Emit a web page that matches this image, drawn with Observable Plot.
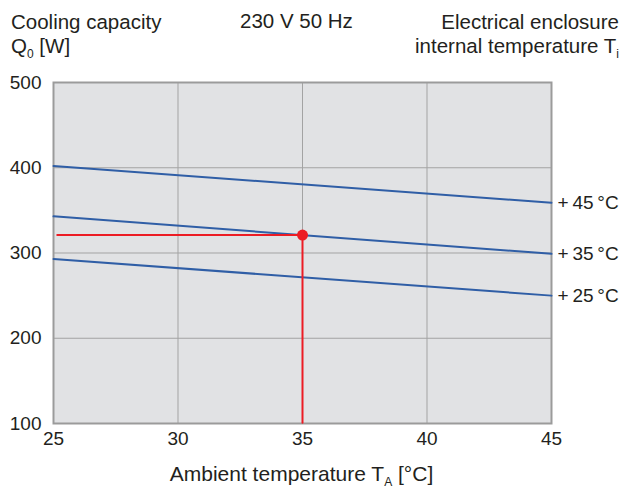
<!DOCTYPE html>
<html><head><meta charset="utf-8">
<script src="https://cdn.jsdelivr.net/npm/d3@7"></script>
<script src="https://cdn.jsdelivr.net/npm/@observablehq/plot@0.6"></script>
<style>
body{margin:0;background:#fff;font-family:"Liberation Sans",Arial,sans-serif;}
#wrap{position:relative;width:627px;height:489px;}
.t{position:absolute;font-size:20.5px;color:#231f20;line-height:24px;white-space:nowrap;z-index:2;}
.t sub{font-size:12px;vertical-align:-5px;line-height:0;}
svg{position:absolute;left:0;top:0;}
</style></head>
<body>
<div id="wrap">
<div class="t" style="left:11px;top:10px;">Cooling capacity<br>Q<sub>0</sub> [W]</div>
<div class="t" style="left:240px;top:9px;">230 V 50 Hz</div>
<div class="t" style="right:8px;top:10px;text-align:right;">Electrical enclosure<br>internal temperature T<sub>i</sub></div>
<div class="t" style="left:0;width:603px;top:462px;text-align:center;font-size:21px;">Ambient temperature T<sub>A</sub> [°C]</div>
</div>
<script>
const ambient = [25, 45];
const seriesLabels = ["+\u200945\u2009°C", "+\u200935\u2009°C", "+\u200925\u2009°C"];
const q45 = [402, 359];
const q35 = [343, 299];
const q25 = [293, 250];
const pointTA = [35];
const pointQ = [321];
const xTicks = [25, 30, 35, 40, 45];
const yTicks = [100, 200, 300, 400, 500];
const xGrid = [30, 35, 40];
const yGrid = [200, 300, 400];

const seriesValues = [q45, q35, q25];
const lineData = seriesLabels.flatMap((s, i) => ambient.map((a, j) => ({s, ta: a, q: seriesValues[i][j]})));
const endLabels = seriesLabels.map((s, i) => ({s, ta: ambient[1], q: seriesValues[i][1]}));
const redH = [{ta: 25.15, q: pointQ[0]}, {ta: pointTA[0], q: pointQ[0]}];
const redV = [{ta: pointTA[0], q: pointQ[0]}, {ta: pointTA[0], q: 101}];

const chart = Plot.plot({
  width: 627, height: 489,
  marginLeft: 53, marginRight: 76, marginTop: 82, marginBottom: 66,
  style: {fontFamily: "Liberation Sans, Arial, sans-serif", fontSize: "19px", color: "#231f20", background: "transparent"},
  x: {domain: [25, 45]},
  y: {domain: [100, 500]},
  marks: [
    Plot.frame({fill: "#e1e2e4", stroke: null}),
    Plot.ruleX(xGrid, {stroke: "#a3a3a3", strokeWidth: 1}),
    Plot.ruleY(yGrid, {stroke: "#a3a3a3", strokeWidth: 1}),
    Plot.frame({stroke: "#9b9b9b", strokeWidth: 2}),
    Plot.line(lineData, {x: "ta", y: "q", z: "s", stroke: "#2f5ea6", strokeWidth: 2}),
    Plot.line(redH, {x: "ta", y: "q", stroke: "#ec1c24", strokeWidth: 2}),
    Plot.line(redV, {x: "ta", y: "q", stroke: "#ec1c24", strokeWidth: 2}),
    Plot.dot(pointTA.map((t, i) => ({ta: t, q: pointQ[i]})), {x: "ta", y: "q", r: 5.5, fill: "#ec1c24"}),
    Plot.text(endLabels, {x: "ta", y: "q", text: "s", textAnchor: "start", dx: 6, fontSize: 19, fill: "#231f20"}),
    Plot.axisX(xTicks, {tickSize: 0, tickPadding: 8, label: null, fontSize: 19}),
    Plot.axisY(yTicks, {tickSize: 0, tickPadding: 12, label: null, fontSize: 19})
  ]
});
document.getElementById("wrap").appendChild(chart);
</script>
</body></html>
